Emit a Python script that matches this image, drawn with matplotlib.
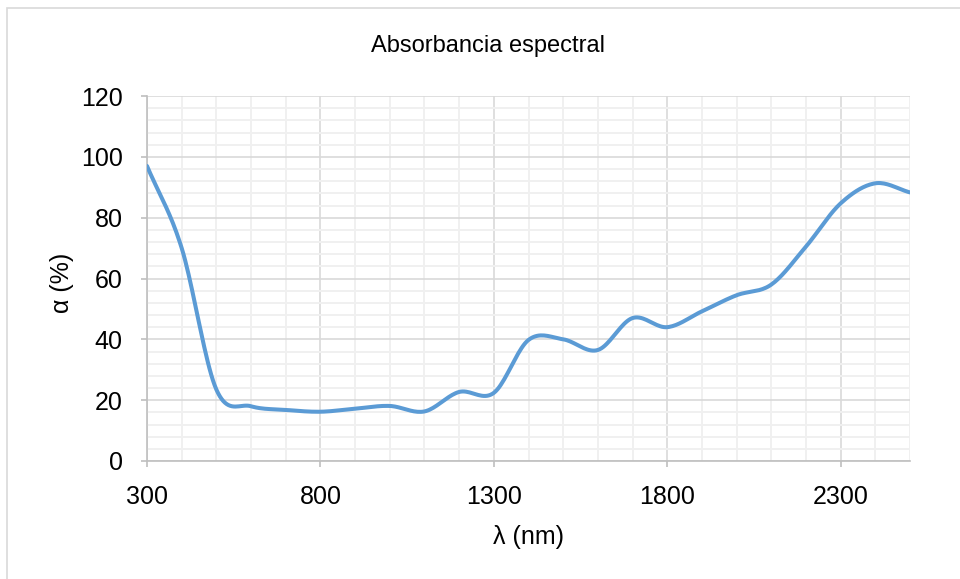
import numpy as np
import matplotlib
matplotlib.use("Agg")
import matplotlib.pyplot as plt
from matplotlib.patches import Rectangle
from matplotlib.ticker import MultipleLocator

# data (every 100 nm)
wavelength_nm = [300, 400, 500, 600, 700, 800, 900, 1000, 1100, 1200, 1300, 1400,
                 1500, 1600, 1700, 1800, 1900, 2000, 2100, 2200, 2300, 2400, 2500]
absorbance_pct = [97.0, 70.0, 23.5, 18.0, 16.8, 16.2, 17.2, 18.1, 16.3, 22.7, 22.4, 39.8,
                  40.0, 36.5, 47.0, 44.0, 49.2, 54.5, 58.0, 70.5, 84.7, 91.3, 88.3]

title = "Absorbancia espectral"
x_label = "λ (nm)"
y_label = "α (%)"


def smooth_line(x, y, n=20):
    """Catmull-Rom curve through the points, like Excel's smoothed line."""
    x = np.asarray(x, float)
    y = np.asarray(y, float)
    px = np.concatenate([[2 * x[0] - x[1]], x, [2 * x[-1] - x[-2]]])
    py = np.concatenate([[2 * y[0] - y[1]], y, [2 * y[-1] - y[-2]]])
    t = np.linspace(0, 1, n, endpoint=False)
    xs, ys = [], []
    for i in range(1, len(px) - 2):
        for p, out in ((px, xs), (py, ys)):
            p0, p1, p2, p3 = p[i - 1], p[i], p[i + 1], p[i + 2]
            out.extend(0.5 * (2 * p1 + (-p0 + p2) * t
                              + (2 * p0 - 5 * p1 + 4 * p2 - p3) * t ** 2
                              + (-p0 + 3 * p1 - 3 * p2 + p3) * t ** 3))
    xs.append(x[-1])
    ys.append(y[-1])
    return np.array(xs), np.array(ys)


plt.rcParams["font.family"] = ["Liberation Sans", "DejaVu Sans"]

fig = plt.figure(figsize=(9.6, 5.79), dpi=100)
ax = fig.add_axes([147 / 960, 1 - 461 / 579, (910 - 147) / 960, (461 - 96) / 579])

# chart frame
fig.patches.append(Rectangle((7 / 960, -0.1), 1.2, 1 - 8 / 579 + 0.1, transform=fig.transFigure,
                             fill=False, edgecolor="#d9d9d9", linewidth=1.2))

sx, sy = smooth_line(wavelength_nm, absorbance_pct)
ax.plot(sx, sy, color="#5b9bd5", linewidth=2.9, solid_capstyle="round", zorder=3)

ax.set_xlim(300, 2500)
ax.set_ylim(0, 120)
ax.xaxis.set_major_locator(MultipleLocator(500))
ax.xaxis.set_minor_locator(MultipleLocator(100))
ax.yaxis.set_major_locator(MultipleLocator(20))
ax.yaxis.set_minor_locator(MultipleLocator(4))
ax.set_xticks(range(300, 2501, 500))

ax.grid(which="major", color="#d9d9d9", linewidth=1.2, zorder=0)
ax.grid(which="minor", color="#f0f0f0", linewidth=1.4, zorder=0)
ax.set_axisbelow(True)

for side in ("top", "right"):
    ax.spines[side].set_visible(False)
for side in ("left", "bottom"):
    ax.spines[side].set_color("#bfbfbf")
    ax.spines[side].set_linewidth(1.2)

ax.tick_params(which="major", length=4.5, width=1.2, color="#bfbfbf", labelsize=18,
               labelcolor="#000000")
ax.tick_params(which="minor", length=0)
ax.tick_params(axis="x", pad=13)
ax.tick_params(axis="y", pad=13)

ax.set_xlabel(x_label, fontsize=18)
ax.set_ylabel(y_label, fontsize=18)
ax.xaxis.label.set_va("center")
ax.xaxis.set_label_coords(0.5, -(537 - 461) / 365)
ax.yaxis.label.set_va("center")
ax.yaxis.set_label_coords(-(147 - 62) / 763, (461 - 283) / 365)
fig.text(488 / 960, 1 - 46 / 579, title, ha="center", va="center", fontsize=17)

fig.savefig("out.png", dpi=100, facecolor="white")
